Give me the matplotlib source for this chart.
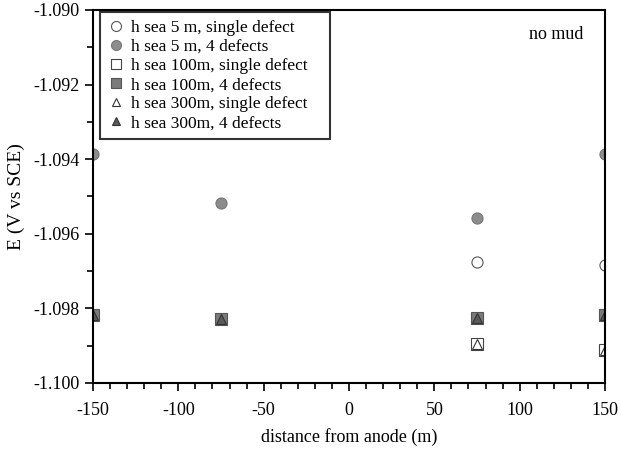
import matplotlib.pyplot as plt
from matplotlib.ticker import MultipleLocator, FormatStrFormatter

plt.rcParams['font.family'] = ['Liberation Serif', 'DejaVu Serif']
plt.rcParams['axes.unicode_minus'] = False

# distance from anode (m)
x_single = [75, 150]
x_multi = [-150, -75, 75, 150]

# potential E (V vs SCE)
sea5_single = [-1.09675, -1.09684]
sea5_multi = [-1.09385, -1.09517, -1.09557, -1.09386]
sea100_single = [-1.09896, -1.09912]
sea100_multi = [-1.09818, -1.09829, -1.09827, -1.09818]
sea300_single = [-1.09896, -1.09912]
sea300_multi = [-1.09818, -1.09829, -1.09827, -1.09818]

fig = plt.figure(figsize=(6.21, 4.58), dpi=100)
ax = fig.add_axes([0.1498, 0.1638, 0.8244, 0.8144])

ms = 8
ax.plot(x_single, sea5_single, 'o', ms=ms, mfc='white', mec='#555555', mew=0.8,
        label='h sea 5 m, single defect')
ax.plot(x_multi, sea5_multi, 'o', ms=ms, mfc='#8c8c8c', mec='#777777', mew=0.8,
        label='h sea 5 m, 4 defects')
ax.plot(x_single, sea100_single, 's', ms=ms, mfc='white', mec='#444444', mew=0.8,
        label='h sea 100m, single defect')
ax.plot(x_multi, sea100_multi, 's', ms=ms, mfc='#7a7a7a', mec='#555555', mew=0.8,
        label='h sea 100m, 4 defects')
ax.plot(x_single, sea300_single, '^', ms=ms - 1, mfc='white', mec='#333333', mew=0.8,
        label='h sea 300m, single defect')
ax.plot(x_multi, sea300_multi, '^', ms=ms - 1, mfc='#5a5a5a', mec='#333333', mew=0.8,
        label='h sea 300m, 4 defects')

ax.set_xlim(-150, 150)
ax.set_ylim(-1.100, -1.090)
ax.xaxis.set_major_locator(MultipleLocator(50))
ax.xaxis.set_minor_locator(MultipleLocator(10))
ax.yaxis.set_major_locator(MultipleLocator(0.002))
ax.yaxis.set_minor_locator(MultipleLocator(0.001))
ax.yaxis.set_major_formatter(FormatStrFormatter('%.3f'))

ax.tick_params(which='both', direction='out', labelsize=13, width=1.2)
ax.tick_params(which='major', length=6)
ax.tick_params(which='minor', length=4)
ax.tick_params(axis='x', pad=8)
ax.tick_params(axis='y', pad=4)
for sp in ax.spines.values():
    sp.set_linewidth(1.5)

ax.set_xlabel('distance from anode (m)', fontsize=13, labelpad=6)
ax.set_ylabel('E (V vs SCE)', fontsize=14, labelpad=6)

ax.text(0.957, 0.935, 'no mud', transform=ax.transAxes, fontsize=13,
        ha='right', va='center')

leg = ax.legend(loc='upper left', bbox_to_anchor=(0.0137, 0.5, 0.449, 0.4946),
                mode='expand', fontsize=12.5, frameon=True, fancybox=False,
                handlelength=0.9, handletextpad=0.45, labelspacing=0.17,
                borderpad=0.45, borderaxespad=0.0, markerscale=0.9)
leg.get_frame().set_edgecolor('black')
leg.get_frame().set_linewidth(1.5)

fig.savefig('out.png', dpi=100)
